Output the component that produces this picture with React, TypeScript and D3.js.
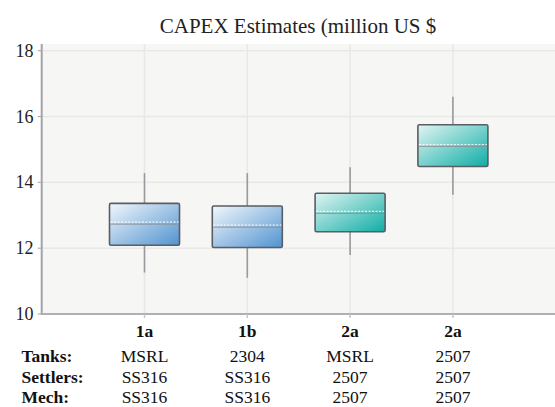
import React from "react";
import * as d3 from "d3";

const categories = ["1a", "1b", "2a", "2a"];
const tanks = ["MSRL", "2304", "MSRL", "2507"];
const settlers = ["SS316", "SS316", "2507", "2507"];
const mech = ["SS316", "SS316", "2507", "2507"];
const whiskerLow = [11.26, 11.1, 11.79, 13.62];
const q1 = [12.09, 12.02, 12.5, 14.48];
const median = [12.73, 12.64, 13.06, 15.09];
const q3 = [13.36, 13.28, 13.67, 15.75];
const whiskerHigh = [14.28, 14.28, 14.46, 16.6];
const colorGroup = ["blue", "blue", "teal", "teal"];
const yTicks = [10, 12, 14, 16, 18];
const rowLabels = ["Tanks:", "Settlers:", "Mech:"];

const W = 555;
const H = 407;
const FONT = '"Liberation Serif", "DejaVu Serif", serif';

export default function App() {
  const x = d3.scaleLinear().domain([0, 5]).range([41.7, 555.7]);
  const y = d3.scaleLinear().domain([10, 18]).range([314, 50.7]);
  const plotLeft = x(0);
  const plotTop = y(18.2);
  const plotBottom = y(10);
  const boxW = 70;
  const rows = [tanks, settlers, mech];
  const rowY = [361.5, 382.5, 403.3];
  const ts = { fontFamily: FONT };

  return (
    <svg
      width={W}
      height={H}
      style={{ position: "absolute", left: 0, top: 0, background: "#fff" }}
    >
      <defs>
        <linearGradient id="g-blue" x1="0" y1="0" x2="1" y2="1">
          <stop offset="0%" stopColor="#f2f7fc" />
          <stop offset="100%" stopColor="#5193d0" />
        </linearGradient>
        <linearGradient id="g-teal" x1="0" y1="0" x2="1" y2="1">
          <stop offset="0%" stopColor="#e2f5f3" />
          <stop offset="100%" stopColor="#0fada5" />
        </linearGradient>
      </defs>

      <text x={298} y={33} textAnchor="middle" fontSize={21} fill="#222" style={ts}>
        CAPEX Estimates (million US $
      </text>

      <rect x={plotLeft} y={plotTop} width={W - plotLeft} height={plotBottom - plotTop} fill="#f6f6f4" />

      {yTicks.slice(1).map((t) => (
        <line key={"hg" + t} x1={plotLeft} x2={W} y1={y(t)} y2={y(t)} stroke="#e8e8e6" strokeWidth={1.5} />
      ))}
      {categories.map((c, i) => (
        <line key={"vg" + i} x1={x(i + 1)} x2={x(i + 1)} y1={plotTop} y2={plotBottom} stroke="#e8e8e6" strokeWidth={1.5} />
      ))}

      <line x1={plotLeft} x2={plotLeft} y1={plotTop} y2={plotBottom + 1} stroke="#a3a3ab" strokeWidth={2} />
      <line x1={plotLeft} x2={W} y1={plotBottom} y2={plotBottom} stroke="#b0b0b4" strokeWidth={2} />

      {yTicks.map((t) => (
        <g key={"yt" + t}>
          <line x1={plotLeft - 4} x2={plotLeft} y1={y(t)} y2={y(t)} stroke="#a3a3ab" strokeWidth={1} />
          <text x={33.5} y={y(t) + 6} textAnchor="end" fontSize={18} fill="#222" style={ts}>
            {t}
          </text>
        </g>
      ))}
      {categories.map((c, i) => (
        <line key={"xt" + i} x1={x(i + 1)} x2={x(i + 1)} y1={plotBottom} y2={plotBottom + 4} stroke="#c4c4c8" strokeWidth={1.5} />
      ))}

      {categories.map((c, i) => {
        const cx = x(i + 1);
        return (
          <g key={"box" + i}>
            <line x1={cx} x2={cx} y1={y(whiskerHigh[i])} y2={y(q3[i])} stroke="#9a9a9e" strokeWidth={1.6} />
            <line x1={cx} x2={cx} y1={y(q1[i])} y2={y(whiskerLow[i])} stroke="#9a9a9e" strokeWidth={1.6} />
            <rect
              x={cx - boxW / 2}
              y={y(q3[i])}
              width={boxW}
              height={y(q1[i]) - y(q3[i])}
              rx={1.5}
              fill={`url(#g-${colorGroup[i]})`}
              stroke="#5a5d62"
              strokeWidth={1.6}
            />
            <line x1={cx - boxW / 2 + 1} x2={cx + boxW / 2 - 1} y1={y(median[i])} y2={y(median[i])} stroke="#8a9096" strokeWidth={1.2} opacity={0.8} />
            <line
              x1={cx - boxW / 2 + 1}
              x2={cx + boxW / 2 - 1}
              y1={y(median[i]) - 2}
              y2={y(median[i]) - 2}
              stroke="#ffffff"
              strokeWidth={1.2}
              strokeDasharray="2,1.5"
              opacity={0.85}
            />
          </g>
        );
      })}

      {categories.map((c, i) => (
        <text key={"cat" + i} x={x(i + 1)} y={336.5} textAnchor="middle" fontSize={17.5} fontWeight="bold" fill="#111" style={ts}>
          {c}
        </text>
      ))}
      {rowLabels.map((r, ri) => (
        <g key={"row" + ri}>
          <text x={21.5} y={rowY[ri]} fontSize={17.5} fontWeight="bold" fill="#111" style={ts}>
            {r}
          </text>
          {rows[ri].map((v, i) => (
            <text key={i} x={x(i + 1)} y={rowY[ri]} textAnchor="middle" fontSize={17.5} fill="#111" style={ts}>
              {v}
            </text>
          ))}
        </g>
      ))}
    </svg>
  );
}
